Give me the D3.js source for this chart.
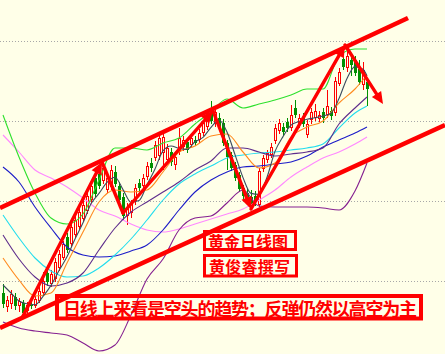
<!DOCTYPE html>
<html><head><meta charset="utf-8">
<script src="https://cdn.jsdelivr.net/npm/d3@7"></script>
<style>
html,body{margin:0;padding:0;background:#FFFFE8;overflow:hidden;}
svg{display:block;}
</style></head>
<body>
<svg id="chart" width="445" height="354"></svg>
<script>
// Daily gold candles: [open, high, low, close]
const candles = [
  [1194,1198.5,1186.5,1188.5],[1187,1192.5,1184.5,1190.5],[1188.5,1195.5,1186,1193.5],[1192,1194,1185.5,1187.5],
  [1187.5,1191.5,1184.5,1190],[1189,1190.5,1181.5,1184],[1185,1189.5,1183.5,1188],[1188.5,1190,1186,1187.5],
  [1187.5,1192.5,1186.5,1191],[1190,1197,1189,1195],[1194,1204.5,1193,1200],[1204,1206.5,1197.5,1199.5],
  [1198.5,1205.5,1197,1203.5],[1201,1211.5,1199.5,1209.5],[1206.5,1215.5,1205,1213.5],[1211.5,1220,1210.5,1218.5],
  [1222,1224,1214,1215.5],[1218.5,1229,1217,1227],[1223,1232.5,1221.5,1230.5],[1227,1236.5,1225.5,1234.5],
  [1231,1240,1229.5,1238],[1235,1244.5,1233.5,1242.5],[1240.5,1249.5,1239,1247.5],[1251.5,1253.5,1242,1243.5],
  [1253.5,1257.5,1246,1247.5],[1250,1259,1248.5,1256.5],[1245.5,1254.5,1244,1251.5],[1247,1258,1245.5,1255.5],
  [1254.5,1257.5,1247,1248.5],[1247.5,1249.5,1239,1240.5],[1242,1244,1230.5,1232.5],[1232.5,1239,1228,1237],
  [1234,1240.5,1231.5,1238.5],[1240,1248.5,1238,1246.5],[1249,1251,1244.5,1246.5],[1247.5,1253.5,1246,1251.5],
  [1252,1259.5,1250.5,1257.5],[1259,1261.5,1254.5,1256.5],[1261.5,1270,1260,1268],[1262.5,1274,1260.5,1271.5],
  [1264,1274,1255.5,1272],[1260.5,1268.5,1259,1266.5],[1264.5,1266.5,1257.5,1259.5],[1258,1263.5,1255.5,1262],
  [1264.5,1276.5,1263,1271.5],[1267,1272.5,1265,1270.5],[1269.5,1271,1264,1265.5],[1268,1273,1266.5,1271.5],
  [1270.5,1272.5,1267.5,1269],[1270.5,1276,1269,1274],[1274,1280.5,1272.5,1279],[1277,1284.5,1275.5,1282],
  [1286.5,1290,1278.5,1280],[1278.5,1287.5,1277,1284.5],[1281.5,1284,1275,1277],[1279,1281,1267.5,1269],
  [1269,1270.5,1255.5,1262],[1263,1264.5,1255,1256.5],[1258,1259.5,1250,1251.5],[1253,1254.5,1244.5,1246],
  [1246.5,1248,1240.5,1242.5],[1244,1246,1238,1240],[1242,1245.5,1237,1239],[1242.5,1245,1237.5,1240],
  [1238,1256.5,1237,1255],[1256,1263,1254.5,1261.5],[1260.5,1265.5,1259,1264],[1263,1269,1261.5,1267],
  [1270,1278.5,1268.5,1276.5],[1275,1281,1273.5,1279],[1277,1279,1272.5,1274.5],[1279.5,1281.5,1274.5,1276.5],
  [1276.5,1288,1275,1283],[1286.5,1290.5,1281.5,1283],[1278,1283.5,1276.5,1281.5],[1282,1284,1277,1278.5],
  [1273,1280.5,1271.5,1278.5],[1280.5,1286.5,1278.5,1284.5],[1281.5,1288.5,1280,1285],[1281,1285,1279.5,1283],
  [1284.5,1286.5,1279,1281.5],[1283,1295.5,1281.5,1287.5],[1285,1287,1280.5,1282.5],[1284,1302,1282.5,1300],
  [1298.5,1306.5,1297.5,1304.5],[1311,1314,1305.5,1307],[1306.5,1317.5,1304.5,1312.5],[1310.5,1312.5,1302.5,1308],
  [1310.5,1312.5,1302.5,1304],[1306,1310.5,1298,1299.5],[1298,1309.5,1295.5,1305.5],[1299.5,1301.5,1287.5,1296]
];

// Horizontal reference levels
const gridPrices = [1200, 1240, 1280, 1320];

// Indicator curves, sampled at these candle positions
const lineIdx = [0,4,8,12,16,20,24,28,32,36,40,44,48,52,56,60,64,68,72,76,80,84,88,91];
const bandUpper = [1283,1262,1244,1231.5,1228.5,1233.5,1250.5,1266.5,1266.5,1265.5,1269,1271.5,1278.5,1284.5,1291,1286.5,1288.5,1290.5,1293,1296,1296,1312.5,1316,1316];
const bandMid   = [1223,1211,1202,1197.5,1199,1204,1215.5,1226.5,1234.5,1239.5,1244.5,1249.5,1255.5,1260,1266.5,1266.5,1264.5,1262.5,1263.5,1264.5,1266.5,1278.5,1286.5,1292];
const bandLower = [1179.5,1176.5,1175,1174,1173,1169,1165,1168,1183,1201,1211,1225.5,1231.5,1232.5,1239,1245.5,1237.5,1237,1237,1237,1236.5,1235.5,1245,1259];
const ma10  = [1211.5,1200.5,1192.5,1194,1209,1224.5,1239.5,1245.5,1244.5,1245.5,1254.5,1264.5,1267.5,1272.5,1273.5,1264.5,1256.5,1259,1272,1277,1280,1289,1296,1303];
const ma30  = [1233,1221.5,1211.5,1205,1202,1202.5,1206.5,1213,1221,1230.5,1240.5,1248.5,1253.5,1257.5,1261.5,1263,1264,1264.5,1265.5,1266.5,1268.5,1276.5,1284,1287.5];
const ma60  = [1257,1249.5,1237,1226.5,1217,1213,1212,1212.5,1215,1218,1225.5,1235.5,1244.5,1250.5,1254.5,1257,1257.5,1258.5,1259.5,1262.5,1267,1270.5,1274,1277];
const ma120 = [1273,1264.5,1255.5,1251.5,1247,1241.5,1235.5,1232.5,1228.5,1225.5,1224.5,1226,1228.5,1231,1233.5,1236,1240.5,1245.5,1252,1257,1261.5,1264.5,1268.5,1272];

// Fast average, sampled every other candle
const ma5Idx = [0,2,4,6,8,10,12,14,16,18,20,22,24,26,28,30,32,34,36,38,40,42,44,46,48,50,52,54,56,58,60,62,64,66,68,70,72,74,76,78,80,82,84,86,88,90,91];
const ma5 = [1198,1194,1190,1188.6,1188.1,1192.3,1197.8,1205.2,1212.1,1221,1229.1,1238.6,1243.8,1249.3,1251.9,1245.7,1239.4,1240.2,1248.1,1256,1265.1,1267.5,1266.3,1265.8,1269.6,1271.8,1276.8,1280.5,1274.5,1263.2,1251.7,1243.8,1243.3,1251.9,1264.8,1272.2,1277.9,1279.7,1280.9,1281.6,1282.5,1283.9,1291.2,1301.3,1307.2,1305.9,1302.6];

// Trend channel: [candle position, price] end points
const channelUpper = [[-0.75, 1236.5], [101.25, 1331.5]];
const channelLower = [[-0.75, 1176.5], [110.5, 1278]];

// Swing path with arrows: [candle position, price]
const swingPoints = [[4.75,1181.5],[24.75,1259.5],[30,1234],[52.5,1285],[62,1236],[85.5,1318],[95,1288.5]];
const swingArrow = [true, false, true, true, true, true];

const titleLabels = ["黄金日线图", "黄俊睿撰写"];
const noteLabel = "日线上来看是空头的趋势；反弹仍然以高空为主";

const W = 445, H = 354;
const svg = d3.select("#chart");
const x = d3.scaleLinear().domain([0, 91]).range([3, 367]);
const y = d3.scaleLinear().domain([1200, 1320]).range([281, 41]);

svg.append("rect").attr("width", W).attr("height", H).attr("fill", "#FFFFE8");

// dotted price grid
svg.append("g").selectAll("line").data(gridPrices).join("line")
  .attr("x1", 0).attr("x2", W)
  .attr("y1", d => Math.round(y(d)) + 0.5).attr("y2", d => Math.round(y(d)) + 0.5)
  .attr("stroke", "#A8A8A8").attr("stroke-width", 1).attr("stroke-dasharray", "1,2");

// candles
const UP = "#FF0000", DOWN = "#009000", BG = "#FFFFE8";
const cg = svg.append("g").attr("shape-rendering", "crispEdges");
candles.forEach((d, i) => {
  const [o, h, l, c] = d;
  const cx = Math.round(x(i));
  const up = c >= o;
  const col = up ? UP : DOWN;
  cg.append("line").attr("x1", cx + 0.5).attr("x2", cx + 0.5)
    .attr("y1", Math.round(y(h))).attr("y2", Math.round(y(l)))
    .attr("stroke", col).attr("stroke-width", 1);
  const top = Math.round(y(Math.max(o, c)));
  const bot = Math.round(y(Math.min(o, c)));
  if (up) {
    cg.append("rect").attr("x", cx - 0.5).attr("y", top + 0.5)
      .attr("width", 2).attr("height", Math.max(bot - top - 1, 0))
      .attr("fill", BG).attr("stroke", col).attr("stroke-width", 1);
  } else {
    cg.append("rect").attr("x", cx - 1).attr("y", top)
      .attr("width", 3).attr("height", Math.max(bot - top, 1))
      .attr("fill", col);
  }
});

// indicator curves
const curve = d3.line().x(d => x(d[0])).y(d => y(d[1])).curve(d3.curveMonotoneX);
const series = [
  [ma120, "#FF88FF"],
  [ma60, "#1C1CC8"],
  [ma30, "#22DDEE"],
  [bandLower, "#852090"],
  [bandMid, "#5E2D8C"],
  [bandUpper, "#2EE02E"],
  [ma10, "#FF8A1E"]
];
const lg = svg.append("g").attr("fill", "none");
series.forEach(([vals, color]) => {
  lg.append("path").attr("d", curve(lineIdx.map((k, j) => [k, vals[j]])))
    .attr("stroke", color).attr("stroke-width", 1.1);
});
lg.append("path").attr("d", curve(ma5Idx.map((k, j) => [k, ma5[j]])))
  .attr("stroke", "#3A4B5E").attr("stroke-width", 1.1);

// trend channel
const straight = d3.line().x(d => x(d[0])).y(d => y(d[1]));
[channelUpper, channelLower].forEach(pts => {
  svg.append("path").attr("d", straight(pts))
    .attr("stroke", "#FF0000").attr("stroke-width", 4.6).attr("fill", "none");
});

// swing arrows
const ag = svg.append("g");
for (let k = 0; k < swingPoints.length - 1; k++) {
  const ax = x(swingPoints[k][0]), ay = y(swingPoints[k][1]);
  const bx = x(swingPoints[k + 1][0]), by = y(swingPoints[k + 1][1]);
  const len = Math.hypot(bx - ax, by - ay);
  const ux = (bx - ax) / len, uy = (by - ay) / len;
  const head = swingArrow[k] ? 12 : 0;
  const ex = bx - ux * head * 0.8, ey = by - uy * head * 0.8;
  ag.append("line").attr("x1", ax).attr("y1", ay).attr("x2", ex).attr("y2", ey)
    .attr("stroke", "#FF0000").attr("stroke-width", 3.4).attr("stroke-linecap", "round");
  if (head) {
    const baseX = bx - ux * head, baseY = by - uy * head;
    const px = -uy * 5.5, py = ux * 5.5;
    ag.append("path")
      .attr("d", `M${bx},${by}L${baseX + px},${baseY + py}L${baseX - px},${baseY - py}Z`)
      .attr("fill", "#FF0000");
  }
}

// labels in framed boxes
const FONT = "'Noto Sans CJK SC', 'Noto Sans CJK JP', sans-serif";
const boxes = [
  {x: 204.5, y: 231.5, w: 91, h: 18, sw: 3, tx: 208, ty: 240.5, fs: 16, tl: 80, text: titleLabels[0]},
  {x: 204.5, y: 255.5, w: 92, h: 20.5, sw: 3, tx: 209, ty: 265.5, fs: 16, tl: 81, text: titleLabels[1]},
  {x: 57, y: 296, w: 364, h: 22.5, sw: 4, tx: 63, ty: 307.5, fs: 18, tl: 354, text: noteLabel}
];
const bg = svg.append("g");
boxes.forEach(b => {
  bg.append("rect").attr("x", b.x).attr("y", b.y).attr("width", b.w).attr("height", b.h)
    .attr("fill", "none").attr("stroke", "#FF0000").attr("stroke-width", b.sw);
  bg.append("text").attr("x", b.tx).attr("y", b.ty)
    .attr("dominant-baseline", "central")
    .attr("textLength", b.tl).attr("lengthAdjust", "spacing")
    .attr("font-family", FONT).attr("font-weight", 700).attr("font-size", b.fs)
    .attr("fill", "#FF0000").text(b.text);
});
</script>
</body></html>
